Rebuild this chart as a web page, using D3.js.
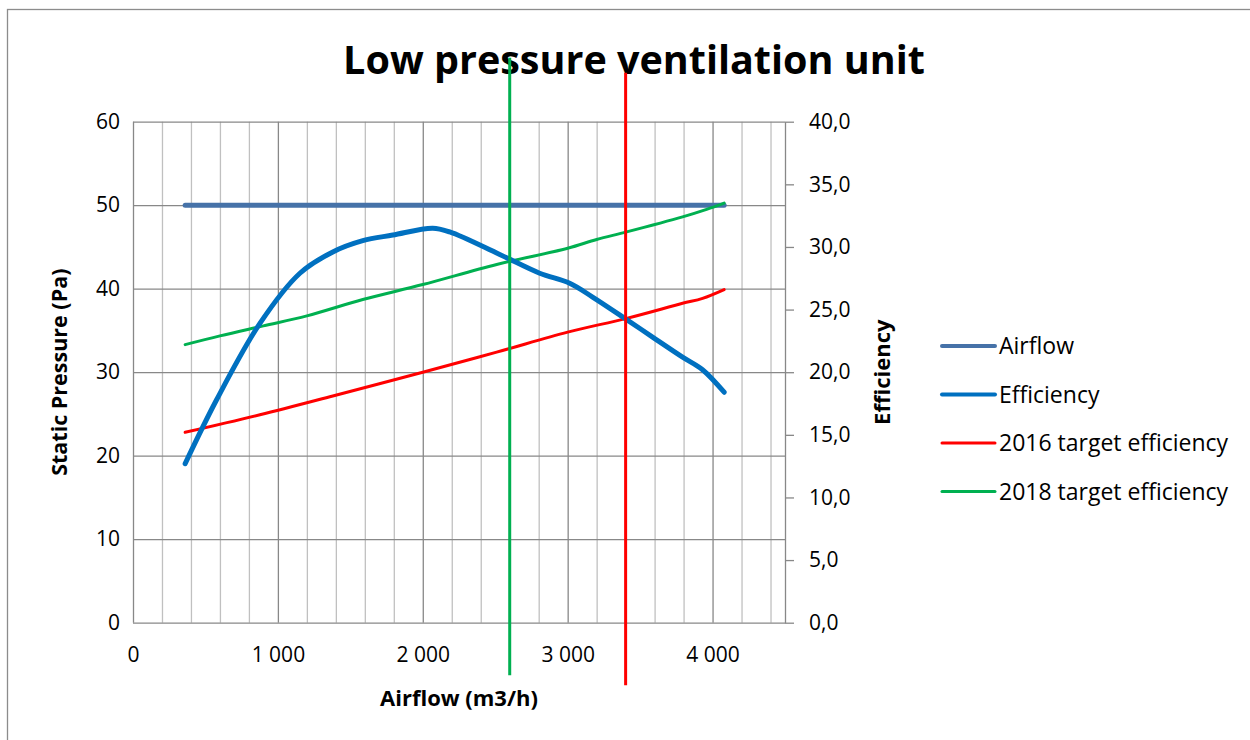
<!DOCTYPE html>
<html>
<head>
<meta charset="utf-8">
<script src="https://cdn.jsdelivr.net/npm/d3@7"></script>
<style>
  body { margin: 0; background: #fff; }
  text { font-family: "Open Sans", "Liberation Sans", sans-serif; fill: #000; }
</style>
</head>
<body>
<div id="chart"></div>
<script>
// Data
const airflowX = [360, 4080];
const airflowPa = [50, 50];

const effX = [360, 577, 876, 1152, 1379, 1586, 1793, 2069, 2186, 2531, 2807, 3014, 3172, 3407, 3586, 3793, 3931, 4080];
const effVal = [12.7, 17.8, 23.9, 27.9, 29.6, 30.5, 30.95, 31.5, 31.2, 29.4, 27.9, 27.1, 26.0, 24.2, 22.8, 21.2, 20.2, 18.4];

const t2016X = [360, 876, 1379, 2000, 2510, 3000, 3407, 3793, 3931, 4080];
const t2016Val = [15.2, 16.6, 18.1, 20.0, 21.6, 23.2, 24.3, 25.5, 25.9, 26.6];

const t2018X = [360, 600, 900, 1200, 1586, 2000, 2510, 3000, 3200, 3407, 3793, 3959, 4080];
const t2018Val = [22.2, 22.9, 23.7, 24.5, 25.8, 27.0, 28.6, 29.9, 30.6, 31.2, 32.4, 33.0, 33.5];

// vertical target markers (efficiency axis units)
const markerX = [2600, 3400];
const markerTop = [45.1, 43.9];
const markerBottom = [-4.2, -5.0];
const markerColors = ["#00B050", "#FF0000"];

const xTicks = [0, 1000, 2000, 3000, 4000];
const xMinor = d3.range(0, 4401, 200);
const leftTicks = [0, 10, 20, 30, 40, 50, 60];
const rightTicks = [0, 5, 10, 15, 20, 25, 30, 35, 40];

const legendNames = ["Airflow", "Efficiency", "2016 target efficiency", "2018 target efficiency"];
const legendColors = ["#4672A8", "#0070C0", "#FF0000", "#00B050"];
const legendWidths = [4, 4, 3, 3];

// Layout
const W = 1250, H = 740;
const plot = {left: 133, right: 785, top: 121.7, bottom: 622.7};

const svg = d3.select("#chart").append("svg")
    .attr("width", W)
    .attr("height", H);

// chart border
svg.append("rect")
    .attr("x", 7.5).attr("y", 9.5)
    .attr("width", W + 10).attr("height", H + 10)
    .attr("fill", "none")
    .attr("stroke", "#8c8c8c")
    .attr("stroke-width", 1.3);

// Scales
const x = d3.scaleLinear().domain([0, 4500]).range([plot.left, plot.right]);
const yL = d3.scaleLinear().domain([0, 60]).range([plot.bottom, plot.top]);
const yR = d3.scaleLinear().domain([0, 40]).range([plot.bottom, plot.top]);

// Vertical gridlines (minor then major)
svg.append("g")
    .attr("transform", `translate(0,${plot.bottom})`)
    .call(d3.axisBottom(x).tickValues(xMinor.filter(d => d % 1000 !== 0 && d > 0)).tickSize(-(plot.bottom - plot.top)).tickFormat(""))
    .call(g => g.select(".domain").remove())
    .call(g => g.selectAll(".tick line").attr("stroke", "#c0c0c0").attr("stroke-width", 1.3));

svg.append("g")
    .attr("transform", `translate(0,${plot.bottom})`)
    .call(d3.axisBottom(x).tickValues(xTicks).tickSize(-(plot.bottom - plot.top)).tickFormat(""))
    .call(g => g.select(".domain").remove())
    .call(g => g.selectAll(".tick line").attr("stroke", "#888").attr("stroke-width", 1.3));

// Horizontal gridlines
svg.append("g")
    .attr("transform", `translate(${plot.left},0)`)
    .call(d3.axisLeft(yL).tickValues(leftTicks).tickSize(-(plot.right - plot.left)).tickFormat(""))
    .call(g => g.select(".domain").remove())
    .call(g => g.selectAll(".tick line").attr("stroke", "#888").attr("stroke-width", 1.3));

// Right axis line + outward ticks
svg.append("g")
    .attr("transform", `translate(${plot.right},0)`)
    .call(d3.axisRight(yR).tickValues(rightTicks).tickSize(9).tickSizeOuter(0)
        .tickFormat(d => d3.format(".1f")(d).replace(".", ",")))
    .call(g => g.select(".domain").attr("stroke", "#888").attr("stroke-width", 1.3))
    .call(g => g.selectAll(".tick line").attr("stroke", "#888").attr("stroke-width", 1.3))
    .call(g => g.selectAll(".tick text").attr("x", 24).style("font-size", "21px").attr("text-anchor", "start"));

// Left tick labels
svg.append("g")
    .attr("transform", `translate(${plot.left},0)`)
    .call(d3.axisLeft(yL).tickValues(leftTicks).tickSize(0))
    .call(g => g.select(".domain").remove())
    .call(g => g.selectAll(".tick text").attr("x", -13).style("font-size", "21px"));

// Bottom tick labels
svg.append("g")
    .attr("transform", `translate(0,${plot.bottom})`)
    .call(d3.axisBottom(x).tickValues(xTicks).tickSize(0)
        .tickFormat(d => d3.format(",")(d).replace(",", " ")))
    .call(g => g.select(".domain").remove())
    .call(g => g.selectAll(".tick text").attr("y", 24).style("font-size", "21px"));

// Series
const curve = d3.curveCatmullRom.alpha(0.5);

const lineL = d3.line().x(d => x(d[0])).y(d => yL(d[1])).curve(curve);
const lineR = d3.line().x(d => x(d[0])).y(d => yR(d[1])).curve(curve);

svg.append("path")
    .datum(d3.zip(airflowX, airflowPa))
    .attr("fill", "none")
    .attr("stroke", legendColors[0])
    .attr("stroke-width", 5)
    .attr("stroke-linecap", "round")
    .attr("d", lineL);

svg.append("path")
    .datum(d3.zip(t2018X, t2018Val))
    .attr("fill", "none")
    .attr("stroke", legendColors[3])
    .attr("stroke-width", 3)
    .attr("stroke-linecap", "round")
    .attr("d", lineR);

svg.append("path")
    .datum(d3.zip(t2016X, t2016Val))
    .attr("fill", "none")
    .attr("stroke", legendColors[2])
    .attr("stroke-width", 3)
    .attr("stroke-linecap", "round")
    .attr("d", lineR);

svg.append("path")
    .datum(d3.zip(effX, effVal))
    .attr("fill", "none")
    .attr("stroke", legendColors[1])
    .attr("stroke-width", 5)
    .attr("stroke-linecap", "round")
    .attr("d", lineR);

// Title (drawn before markers so the markers cross it)
svg.append("text")
    .attr("x", 634)
    .attr("y", 74)
    .attr("text-anchor", "middle")
    .style("font-size", "39.5px")
    .style("font-weight", "bold")
    .text("Low pressure ventilation unit");

// Target markers
svg.selectAll(".marker")
    .data(markerX)
    .join("line")
    .attr("class", "marker")
    .attr("x1", d => x(d)).attr("x2", d => x(d))
    .attr("y1", (d, i) => yR(markerTop[i]))
    .attr("y2", (d, i) => yR(markerBottom[i]))
    .attr("stroke", (d, i) => markerColors[i])
    .attr("stroke-width", 3);

// Axis titles
svg.append("text")
    .attr("x", (plot.left + plot.right) / 2)
    .attr("y", 706)
    .attr("text-anchor", "middle")
    .style("font-size", "22px")
    .style("font-weight", "bold")
    .text("Airflow (m3/h)");

svg.append("text")
    .attr("transform", `translate(67,${(plot.top + plot.bottom) / 2}) rotate(-90)`)
    .attr("text-anchor", "middle")
    .style("font-size", "21.5px")
    .style("font-weight", "bold")
    .text("Static Pressure (Pa)");

svg.append("text")
    .attr("transform", `translate(890,${(plot.top + plot.bottom) / 2}) rotate(-90)`)
    .attr("text-anchor", "middle")
    .style("font-size", "22px")
    .style("font-weight", "bold")
    .text("Efficiency");

// Legend
const legend = svg.append("g").attr("transform", "translate(940,346)");
const rows = legend.selectAll("g")
    .data(legendNames)
    .join("g")
    .attr("transform", (d, i) => `translate(0,${i * 48.5})`);

rows.append("line")
    .attr("x1", 2).attr("x2", 55)
    .attr("stroke", (d, i) => legendColors[i])
    .attr("stroke-width", (d, i) => legendWidths[i])
    .attr("stroke-linecap", "round");

rows.append("text")
    .attr("x", 59)
    .attr("dy", "0.35em")
    .style("font-size", "23px")
    .text(d => d);
</script>
</body>
</html>
